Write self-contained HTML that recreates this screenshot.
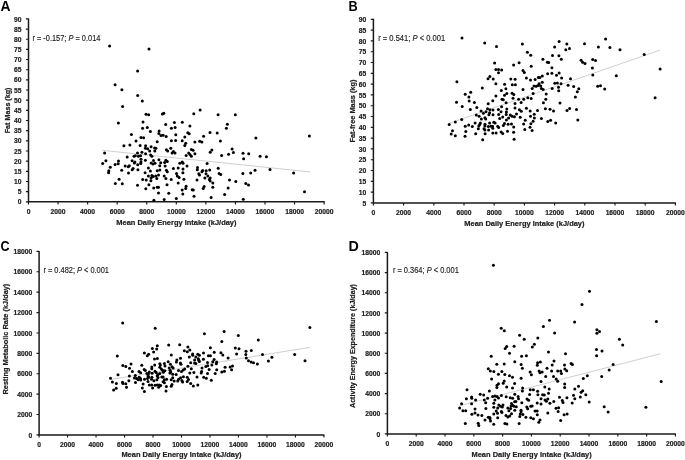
<!DOCTYPE html>
<html lang="en"><head><meta charset="utf-8"><title>Figure</title>
<style>html,body{margin:0;padding:0;background:#fff}svg{display:block}text{font-family:"Liberation Sans", sans-serif;fill:#222}.b{font-weight:700}.tk{font-weight:700;font-size:6.9px}.ax{font-weight:700;font-size:7.8px;stroke:#222;stroke-width:.22px}.tk{stroke:#222;stroke-width:.2px}.st{font-size:8.2px;fill:#1c1c1c;stroke:#1c1c1c;stroke-width:.14px}.L{font-weight:700;font-size:14.3px;fill:#000}.d circle{fill:#000}</style></head><body>
<svg style="will-change:transform" width="685" height="460" viewBox="0 0 685 460">
<rect width="685" height="460" fill="#fff"/>
<g id="panelA">
<line x1="102.2" y1="150.3" x2="310.0" y2="171.9" stroke="#8c8c8c" stroke-width="0.42"/>
<path d="M28.5 18.4V201.8H324.6" fill="none" stroke="#1a1a1a" stroke-width="1.5"/>
<path d="M25.9 18.9H28.5M25.9 29.06H28.5M25.9 39.22H28.5M25.9 49.38H28.5M25.9 59.54H28.5M25.9 69.71H28.5M25.9 79.87H28.5M25.9 90.03H28.5M25.9 100.19H28.5M25.9 110.35H28.5M25.9 120.51H28.5M25.9 130.67H28.5M25.9 140.83H28.5M25.9 150.99H28.5M25.9 161.16H28.5M25.9 171.32H28.5M25.9 181.48H28.5M25.9 191.64H28.5M25.9 201.8H28.5M28.5 201.8V204.4M58.06 201.8V204.4M87.62 201.8V204.4M117.18 201.8V204.4M146.74 201.8V204.4M176.3 201.8V204.4M205.86 201.8V204.4M235.42 201.8V204.4M264.98 201.8V204.4M294.54 201.8V204.4M324.1 201.8V204.4" fill="none" stroke="#1a1a1a" stroke-width="1.15"/>
<text class="tk" x="21.6" y="21.5" text-anchor="end" textLength="7.5" lengthAdjust="spacingAndGlyphs">90</text>
<text class="tk" x="21.6" y="31.66" text-anchor="end" textLength="7.5" lengthAdjust="spacingAndGlyphs">85</text>
<text class="tk" x="21.6" y="41.82" text-anchor="end" textLength="7.5" lengthAdjust="spacingAndGlyphs">80</text>
<text class="tk" x="21.6" y="51.98" text-anchor="end" textLength="7.5" lengthAdjust="spacingAndGlyphs">75</text>
<text class="tk" x="21.6" y="62.14" text-anchor="end" textLength="7.5" lengthAdjust="spacingAndGlyphs">70</text>
<text class="tk" x="21.6" y="72.31" text-anchor="end" textLength="7.5" lengthAdjust="spacingAndGlyphs">65</text>
<text class="tk" x="21.6" y="82.47" text-anchor="end" textLength="7.5" lengthAdjust="spacingAndGlyphs">60</text>
<text class="tk" x="21.6" y="92.63" text-anchor="end" textLength="7.5" lengthAdjust="spacingAndGlyphs">55</text>
<text class="tk" x="21.6" y="102.79" text-anchor="end" textLength="7.5" lengthAdjust="spacingAndGlyphs">50</text>
<text class="tk" x="21.6" y="112.95" text-anchor="end" textLength="7.5" lengthAdjust="spacingAndGlyphs">45</text>
<text class="tk" x="21.6" y="123.11" text-anchor="end" textLength="7.5" lengthAdjust="spacingAndGlyphs">40</text>
<text class="tk" x="21.6" y="133.27" text-anchor="end" textLength="7.5" lengthAdjust="spacingAndGlyphs">35</text>
<text class="tk" x="21.6" y="143.43" text-anchor="end" textLength="7.5" lengthAdjust="spacingAndGlyphs">30</text>
<text class="tk" x="21.6" y="153.59" text-anchor="end" textLength="7.5" lengthAdjust="spacingAndGlyphs">25</text>
<text class="tk" x="21.6" y="163.76" text-anchor="end" textLength="7.5" lengthAdjust="spacingAndGlyphs">20</text>
<text class="tk" x="21.6" y="173.92" text-anchor="end" textLength="7.5" lengthAdjust="spacingAndGlyphs">15</text>
<text class="tk" x="21.6" y="184.08" text-anchor="end" textLength="7.5" lengthAdjust="spacingAndGlyphs">10</text>
<text class="tk" x="21.6" y="194.24" text-anchor="end" textLength="3.75" lengthAdjust="spacingAndGlyphs">5</text>
<text class="tk" x="21.6" y="204.4" text-anchor="end" textLength="3.75" lengthAdjust="spacingAndGlyphs">0</text>
<text class="tk" x="28.5" y="213.7" text-anchor="middle" textLength="3.75" lengthAdjust="spacingAndGlyphs">0</text>
<text class="tk" x="58.06" y="213.7" text-anchor="middle" textLength="15" lengthAdjust="spacingAndGlyphs">2000</text>
<text class="tk" x="87.62" y="213.7" text-anchor="middle" textLength="15" lengthAdjust="spacingAndGlyphs">4000</text>
<text class="tk" x="117.18" y="213.7" text-anchor="middle" textLength="15" lengthAdjust="spacingAndGlyphs">6000</text>
<text class="tk" x="146.74" y="213.7" text-anchor="middle" textLength="15" lengthAdjust="spacingAndGlyphs">8000</text>
<text class="tk" x="176.3" y="213.7" text-anchor="middle" textLength="18.75" lengthAdjust="spacingAndGlyphs">10000</text>
<text class="tk" x="205.86" y="213.7" text-anchor="middle" textLength="18.75" lengthAdjust="spacingAndGlyphs">12000</text>
<text class="tk" x="235.42" y="213.7" text-anchor="middle" textLength="18.75" lengthAdjust="spacingAndGlyphs">14000</text>
<text class="tk" x="264.98" y="213.7" text-anchor="middle" textLength="18.75" lengthAdjust="spacingAndGlyphs">16000</text>
<text class="tk" x="294.54" y="213.7" text-anchor="middle" textLength="18.75" lengthAdjust="spacingAndGlyphs">18000</text>
<text class="tk" x="324.1" y="213.7" text-anchor="middle" textLength="18.75" lengthAdjust="spacingAndGlyphs">20000</text>
<text class="ax" x="176.4" y="224.6" text-anchor="middle" textLength="120.2" lengthAdjust="spacingAndGlyphs">Mean Daily Energy Intake (kJ/day)</text>
<text class="ax" transform="translate(10.4 110.4) rotate(-90)" text-anchor="middle" textLength="45.7" lengthAdjust="spacingAndGlyphs">Fat Mass (kg)</text>
<text class="L" x="0.6" y="11" textLength="10" lengthAdjust="spacingAndGlyphs">A</text>
<text class="st" x="32.4" y="40.7" textLength="68" lengthAdjust="spacingAndGlyphs" xml:space="preserve">r = -0.157; <tspan font-style="italic">P</tspan> = 0.014</text>
<g class="d"><circle cx="109.6" cy="45.9" r="1.5"/><circle cx="149" cy="49.1" r="1.5"/><circle cx="137.6" cy="71.1" r="1.5"/><circle cx="115.1" cy="84.7" r="1.5"/><circle cx="121.9" cy="89.8" r="1.5"/><circle cx="137.7" cy="95.5" r="1.5"/><circle cx="142.3" cy="100.9" r="1.5"/><circle cx="122.6" cy="106.4" r="1.5"/><circle cx="146" cy="114.3" r="1.5"/><circle cx="148.6" cy="114.7" r="1.5"/><circle cx="118.4" cy="123" r="1.5"/><circle cx="143" cy="122.1" r="1.5"/><circle cx="142.6" cy="128.3" r="1.5"/><circle cx="147.3" cy="127.4" r="1.5"/><circle cx="150.4" cy="131.5" r="1.5"/><circle cx="131.4" cy="134.4" r="1.5"/><circle cx="141" cy="137.5" r="1.5"/><circle cx="143.6" cy="137.8" r="1.5"/><circle cx="162.4" cy="114" r="1.5"/><circle cx="163.8" cy="113.3" r="1.5"/><circle cx="193.8" cy="113.8" r="1.5"/><circle cx="200.1" cy="109.9" r="1.5"/><circle cx="165.7" cy="124.4" r="1.5"/><circle cx="174.4" cy="122.5" r="1.5"/><circle cx="182.3" cy="122.3" r="1.5"/><circle cx="189.9" cy="126.1" r="1.5"/><circle cx="171.4" cy="128.3" r="1.5"/><circle cx="175.1" cy="127.4" r="1.5"/><circle cx="159.1" cy="131.1" r="1.5"/><circle cx="158.9" cy="133.5" r="1.5"/><circle cx="161" cy="135.5" r="1.5"/><circle cx="163.1" cy="135.2" r="1.5"/><circle cx="166.2" cy="136.6" r="1.5"/><circle cx="175.8" cy="134.8" r="1.5"/><circle cx="187.8" cy="132.8" r="1.5"/><circle cx="189.2" cy="133.7" r="1.5"/><circle cx="184.8" cy="137" r="1.5"/><circle cx="203.6" cy="136.2" r="1.5"/><circle cx="210" cy="132.6" r="1.5"/><circle cx="218.1" cy="114.7" r="1.5"/><circle cx="235.3" cy="114.7" r="1.5"/><circle cx="227.4" cy="124.3" r="1.5"/><circle cx="226.4" cy="128.2" r="1.5"/><circle cx="217.2" cy="133" r="1.5"/><circle cx="255.9" cy="137.9" r="1.5"/><circle cx="136" cy="141.1" r="1.5"/><circle cx="123.9" cy="145.7" r="1.5"/><circle cx="129.9" cy="145" r="1.5"/><circle cx="140.1" cy="145.4" r="1.5"/><circle cx="145.6" cy="145.7" r="1.5"/><circle cx="151.1" cy="146.7" r="1.5"/><circle cx="154.6" cy="147.9" r="1.5"/><circle cx="145.4" cy="148.3" r="1.5"/><circle cx="147.6" cy="148.8" r="1.5"/><circle cx="149.7" cy="150.9" r="1.5"/><circle cx="154.8" cy="151.1" r="1.5"/><circle cx="104.6" cy="152.9" r="1.5"/><circle cx="137.5" cy="153.1" r="1.5"/><circle cx="141.9" cy="152.3" r="1.5"/><circle cx="145.6" cy="153.8" r="1.5"/><circle cx="150.6" cy="154.9" r="1.5"/><circle cx="151.9" cy="156.2" r="1.5"/><circle cx="134" cy="156.2" r="1.5"/><circle cx="135.3" cy="155.8" r="1.5"/><circle cx="138.4" cy="156.2" r="1.5"/><circle cx="140.5" cy="155.8" r="1.5"/><circle cx="127.2" cy="157.1" r="1.5"/><circle cx="141" cy="159.3" r="1.5"/><circle cx="145.4" cy="160.3" r="1.5"/><circle cx="153.5" cy="160.6" r="1.5"/><circle cx="105.9" cy="160.8" r="1.5"/><circle cx="118.5" cy="161" r="1.5"/><circle cx="132.1" cy="160.8" r="1.5"/><circle cx="134.9" cy="161.9" r="1.5"/><circle cx="134.4" cy="162.9" r="1.5"/><circle cx="141" cy="161.9" r="1.5"/><circle cx="140.7" cy="163.5" r="1.5"/><circle cx="151.1" cy="162.9" r="1.5"/><circle cx="153" cy="164.1" r="1.5"/><circle cx="102.7" cy="163.6" r="1.5"/><circle cx="115.1" cy="164.4" r="1.5"/><circle cx="118.2" cy="163.8" r="1.5"/><circle cx="137.7" cy="164.8" r="1.5"/><circle cx="125.2" cy="166.1" r="1.5"/><circle cx="128.3" cy="166.7" r="1.5"/><circle cx="129.3" cy="165.8" r="1.5"/><circle cx="110.3" cy="167.3" r="1.5"/><circle cx="148.4" cy="167.9" r="1.5"/><circle cx="133.1" cy="168.5" r="1.5"/><circle cx="132.2" cy="169.8" r="1.5"/><circle cx="137.9" cy="169.8" r="1.5"/><circle cx="121.7" cy="170.2" r="1.5"/><circle cx="108.8" cy="170.7" r="1.5"/><circle cx="108.6" cy="172.8" r="1.5"/><circle cx="128.5" cy="173" r="1.5"/><circle cx="150.4" cy="171.1" r="1.5"/><circle cx="145.1" cy="172.7" r="1.5"/><circle cx="148.4" cy="176.1" r="1.5"/><circle cx="151.9" cy="175.5" r="1.5"/><circle cx="153.2" cy="176.4" r="1.5"/><circle cx="151.1" cy="178.1" r="1.5"/><circle cx="119.1" cy="179.2" r="1.5"/><circle cx="142.7" cy="179.6" r="1.5"/><circle cx="146.2" cy="179.9" r="1.5"/><circle cx="157.2" cy="141.8" r="1.5"/><circle cx="171.4" cy="140.7" r="1.5"/><circle cx="175.6" cy="140.4" r="1.5"/><circle cx="182.2" cy="140.7" r="1.5"/><circle cx="194.9" cy="141.9" r="1.5"/><circle cx="199.7" cy="141.3" r="1.5"/><circle cx="201.9" cy="141.9" r="1.5"/><circle cx="185.7" cy="143.3" r="1.5"/><circle cx="184.8" cy="145.4" r="1.5"/><circle cx="155.9" cy="148.3" r="1.5"/><circle cx="170.8" cy="148.3" r="1.5"/><circle cx="166.4" cy="149.8" r="1.5"/><circle cx="167.7" cy="150.9" r="1.5"/><circle cx="173.4" cy="151.4" r="1.5"/><circle cx="172.1" cy="153.1" r="1.5"/><circle cx="175" cy="153" r="1.5"/><circle cx="191.4" cy="149.5" r="1.5"/><circle cx="193.1" cy="150.3" r="1.5"/><circle cx="188.7" cy="153" r="1.5"/><circle cx="194.9" cy="153.8" r="1.5"/><circle cx="190" cy="154.5" r="1.5"/><circle cx="191.4" cy="156.2" r="1.5"/><circle cx="186.1" cy="155.6" r="1.5"/><circle cx="211.9" cy="150.1" r="1.5"/><circle cx="210.2" cy="152.3" r="1.5"/><circle cx="158.9" cy="159.7" r="1.5"/><circle cx="165.9" cy="160.3" r="1.5"/><circle cx="167.3" cy="161.5" r="1.5"/><circle cx="155" cy="163.2" r="1.5"/><circle cx="160.7" cy="162.8" r="1.5"/><circle cx="164.6" cy="162.6" r="1.5"/><circle cx="182.2" cy="162.1" r="1.5"/><circle cx="179.8" cy="163.2" r="1.5"/><circle cx="183" cy="163.2" r="1.5"/><circle cx="207.1" cy="163.5" r="1.5"/><circle cx="159.8" cy="165.7" r="1.5"/><circle cx="165.1" cy="166" r="1.5"/><circle cx="187" cy="166.1" r="1.5"/><circle cx="173.4" cy="168.5" r="1.5"/><circle cx="178.2" cy="168" r="1.5"/><circle cx="183" cy="168.9" r="1.5"/><circle cx="197.5" cy="167.6" r="1.5"/><circle cx="197.3" cy="169.8" r="1.5"/><circle cx="209.7" cy="170" r="1.5"/><circle cx="157.2" cy="170.7" r="1.5"/><circle cx="159.8" cy="170" r="1.5"/><circle cx="166.4" cy="170.2" r="1.5"/><circle cx="167.3" cy="171.7" r="1.5"/><circle cx="202.7" cy="170.5" r="1.5"/><circle cx="201.9" cy="171.7" r="1.5"/><circle cx="206.2" cy="170.7" r="1.5"/><circle cx="182.9" cy="172.8" r="1.5"/><circle cx="176.5" cy="173.5" r="1.5"/><circle cx="206" cy="173.7" r="1.5"/><circle cx="198.8" cy="173.7" r="1.5"/><circle cx="199.5" cy="175" r="1.5"/><circle cx="158.5" cy="175" r="1.5"/><circle cx="155.9" cy="176.1" r="1.5"/><circle cx="164.2" cy="175.9" r="1.5"/><circle cx="177.3" cy="175.9" r="1.5"/><circle cx="179.1" cy="177.5" r="1.5"/><circle cx="207.8" cy="175.9" r="1.5"/><circle cx="156.8" cy="178.5" r="1.5"/><circle cx="165.9" cy="178.5" r="1.5"/><circle cx="171.2" cy="179.6" r="1.5"/><circle cx="183.9" cy="179.2" r="1.5"/><circle cx="204.9" cy="178.1" r="1.5"/><circle cx="210.2" cy="178.1" r="1.5"/><circle cx="209.3" cy="179.6" r="1.5"/><circle cx="197" cy="179.9" r="1.5"/><circle cx="220.4" cy="140.9" r="1.5"/><circle cx="232.1" cy="149" r="1.5"/><circle cx="233.4" cy="152.5" r="1.5"/><circle cx="228.6" cy="154.3" r="1.5"/><circle cx="221.6" cy="155.5" r="1.5"/><circle cx="243" cy="153.3" r="1.5"/><circle cx="248.7" cy="153.8" r="1.5"/><circle cx="243.6" cy="158.7" r="1.5"/><circle cx="260.1" cy="156.2" r="1.5"/><circle cx="266.4" cy="156.8" r="1.5"/><circle cx="218.2" cy="168.2" r="1.5"/><circle cx="255" cy="170.2" r="1.5"/><circle cx="270" cy="169.6" r="1.5"/><circle cx="219.1" cy="173.5" r="1.5"/><circle cx="220.7" cy="174.6" r="1.5"/><circle cx="242.9" cy="173.5" r="1.5"/><circle cx="250.7" cy="173.1" r="1.5"/><circle cx="229.5" cy="179.9" r="1.5"/><circle cx="150.9" cy="180.7" r="1.5"/><circle cx="115.3" cy="183.6" r="1.5"/><circle cx="122.3" cy="183.8" r="1.5"/><circle cx="137.5" cy="185.3" r="1.5"/><circle cx="148.9" cy="184.7" r="1.5"/><circle cx="145.8" cy="188.8" r="1.5"/><circle cx="153.7" cy="188" r="1.5"/><circle cx="153.9" cy="200.2" r="1.5"/><circle cx="210.2" cy="180.9" r="1.5"/><circle cx="212.8" cy="183" r="1.5"/><circle cx="178.2" cy="183" r="1.5"/><circle cx="167" cy="184.7" r="1.5"/><circle cx="186.1" cy="186.2" r="1.5"/><circle cx="204.1" cy="186.6" r="1.5"/><circle cx="157.2" cy="187.3" r="1.5"/><circle cx="158.5" cy="187.3" r="1.5"/><circle cx="212.8" cy="187.3" r="1.5"/><circle cx="185.7" cy="188.6" r="1.5"/><circle cx="203.2" cy="188.6" r="1.5"/><circle cx="182.2" cy="190" r="1.5"/><circle cx="192.2" cy="189.7" r="1.5"/><circle cx="193.3" cy="190.1" r="1.5"/><circle cx="158.5" cy="192.9" r="1.5"/><circle cx="168.8" cy="193.2" r="1.5"/><circle cx="182.8" cy="194.1" r="1.5"/><circle cx="194" cy="196.3" r="1.5"/><circle cx="211.1" cy="197.4" r="1.5"/><circle cx="176.3" cy="198.5" r="1.5"/><circle cx="164.2" cy="199.5" r="1.5"/><circle cx="235.8" cy="181.4" r="1.5"/><circle cx="245.8" cy="183.6" r="1.5"/><circle cx="248.5" cy="185.1" r="1.5"/><circle cx="228.1" cy="188" r="1.5"/><circle cx="224.6" cy="194.4" r="1.5"/><circle cx="243.3" cy="199.3" r="1.5"/><circle cx="293.6" cy="173.1" r="1.5"/><circle cx="304.5" cy="191.7" r="1.5"/><circle cx="309.4" cy="136" r="1.5"/></g>
</g>
<g id="panelB">
<line x1="449.3" y1="123.3" x2="660.1" y2="50.1" stroke="#8c8c8c" stroke-width="0.42"/>
<path d="M373.4 18.8V202.9H675.9" fill="none" stroke="#1a1a1a" stroke-width="1.5"/>
<path d="M370.8 19.3H373.4M370.8 30.1H373.4M370.8 40.9H373.4M370.8 51.7H373.4M370.8 62.5H373.4M370.8 73.3H373.4M370.8 84.1H373.4M370.8 94.9H373.4M370.8 105.7H373.4M370.8 116.5H373.4M370.8 127.3H373.4M370.8 138.1H373.4M370.8 148.9H373.4M370.8 159.7H373.4M370.8 170.5H373.4M370.8 181.3H373.4M370.8 192.1H373.4M370.8 202.9H373.4M373.4 202.9V205.5M403.6 202.9V205.5M433.8 202.9V205.5M464 202.9V205.5M494.2 202.9V205.5M524.4 202.9V205.5M554.6 202.9V205.5M584.8 202.9V205.5M615 202.9V205.5M645.2 202.9V205.5M675.4 202.9V205.5" fill="none" stroke="#1a1a1a" stroke-width="1.15"/>
<text class="tk" x="366.3" y="21.9" text-anchor="end" textLength="7.5" lengthAdjust="spacingAndGlyphs">90</text>
<text class="tk" x="366.3" y="32.7" text-anchor="end" textLength="7.5" lengthAdjust="spacingAndGlyphs">85</text>
<text class="tk" x="366.3" y="43.5" text-anchor="end" textLength="7.5" lengthAdjust="spacingAndGlyphs">80</text>
<text class="tk" x="366.3" y="54.3" text-anchor="end" textLength="7.5" lengthAdjust="spacingAndGlyphs">75</text>
<text class="tk" x="366.3" y="65.1" text-anchor="end" textLength="7.5" lengthAdjust="spacingAndGlyphs">70</text>
<text class="tk" x="366.3" y="75.9" text-anchor="end" textLength="7.5" lengthAdjust="spacingAndGlyphs">65</text>
<text class="tk" x="366.3" y="86.7" text-anchor="end" textLength="7.5" lengthAdjust="spacingAndGlyphs">60</text>
<text class="tk" x="366.3" y="97.5" text-anchor="end" textLength="7.5" lengthAdjust="spacingAndGlyphs">55</text>
<text class="tk" x="366.3" y="108.3" text-anchor="end" textLength="7.5" lengthAdjust="spacingAndGlyphs">50</text>
<text class="tk" x="366.3" y="119.1" text-anchor="end" textLength="7.5" lengthAdjust="spacingAndGlyphs">45</text>
<text class="tk" x="366.3" y="129.9" text-anchor="end" textLength="7.5" lengthAdjust="spacingAndGlyphs">40</text>
<text class="tk" x="366.3" y="140.7" text-anchor="end" textLength="7.5" lengthAdjust="spacingAndGlyphs">35</text>
<text class="tk" x="366.3" y="151.5" text-anchor="end" textLength="7.5" lengthAdjust="spacingAndGlyphs">30</text>
<text class="tk" x="366.3" y="162.3" text-anchor="end" textLength="7.5" lengthAdjust="spacingAndGlyphs">25</text>
<text class="tk" x="366.3" y="173.1" text-anchor="end" textLength="7.5" lengthAdjust="spacingAndGlyphs">20</text>
<text class="tk" x="366.3" y="183.9" text-anchor="end" textLength="7.5" lengthAdjust="spacingAndGlyphs">15</text>
<text class="tk" x="366.3" y="194.7" text-anchor="end" textLength="7.5" lengthAdjust="spacingAndGlyphs">10</text>
<text class="tk" x="366.3" y="205.5" text-anchor="end" textLength="3.75" lengthAdjust="spacingAndGlyphs">5</text>
<text class="tk" x="373.4" y="214.9" text-anchor="middle" textLength="3.75" lengthAdjust="spacingAndGlyphs">0</text>
<text class="tk" x="403.6" y="214.9" text-anchor="middle" textLength="15" lengthAdjust="spacingAndGlyphs">2000</text>
<text class="tk" x="433.8" y="214.9" text-anchor="middle" textLength="15" lengthAdjust="spacingAndGlyphs">4000</text>
<text class="tk" x="464" y="214.9" text-anchor="middle" textLength="15" lengthAdjust="spacingAndGlyphs">6000</text>
<text class="tk" x="494.2" y="214.9" text-anchor="middle" textLength="15" lengthAdjust="spacingAndGlyphs">8000</text>
<text class="tk" x="524.4" y="214.9" text-anchor="middle" textLength="18.75" lengthAdjust="spacingAndGlyphs">10000</text>
<text class="tk" x="554.6" y="214.9" text-anchor="middle" textLength="18.75" lengthAdjust="spacingAndGlyphs">12000</text>
<text class="tk" x="584.8" y="214.9" text-anchor="middle" textLength="18.75" lengthAdjust="spacingAndGlyphs">14000</text>
<text class="tk" x="615" y="214.9" text-anchor="middle" textLength="18.75" lengthAdjust="spacingAndGlyphs">16000</text>
<text class="tk" x="645.2" y="214.9" text-anchor="middle" textLength="18.75" lengthAdjust="spacingAndGlyphs">18000</text>
<text class="tk" x="675.4" y="214.9" text-anchor="middle" textLength="18.75" lengthAdjust="spacingAndGlyphs">20000</text>
<text class="ax" x="524.4" y="226.2" text-anchor="middle" textLength="120.2" lengthAdjust="spacingAndGlyphs">Mean Daily Energy Intake (kJ/day)</text>
<text class="ax" transform="translate(354.8 111.1) rotate(-90)" text-anchor="middle" textLength="63" lengthAdjust="spacingAndGlyphs">Fat-free Mass (kg)</text>
<text class="L" x="348.6" y="11" textLength="9.2" lengthAdjust="spacingAndGlyphs">B</text>
<text class="st" x="378.2" y="40.7" textLength="66.9" lengthAdjust="spacingAndGlyphs" xml:space="preserve">r = 0.541; <tspan font-style="italic">P</tspan> < 0.001</text>
<g class="d"><circle cx="462" cy="38.1" r="1.5"/><circle cx="484.7" cy="43" r="1.5"/><circle cx="494.6" cy="63.1" r="1.5"/><circle cx="496.5" cy="46.5" r="1.5"/><circle cx="522.4" cy="44.1" r="1.5"/><circle cx="554.6" cy="46.9" r="1.5"/><circle cx="527.4" cy="52.2" r="1.5"/><circle cx="530.7" cy="55.2" r="1.5"/><circle cx="552.5" cy="55.4" r="1.5"/><circle cx="542.9" cy="59.3" r="1.5"/><circle cx="547.4" cy="62.2" r="1.5"/><circle cx="548.7" cy="62.5" r="1.5"/><circle cx="519.1" cy="62.7" r="1.5"/><circle cx="513.6" cy="64.9" r="1.5"/><circle cx="559.1" cy="41.6" r="1.5"/><circle cx="566.8" cy="44.1" r="1.5"/><circle cx="569.5" cy="48.6" r="1.5"/><circle cx="565.8" cy="49.8" r="1.5"/><circle cx="584.5" cy="43.8" r="1.5"/><circle cx="598.4" cy="46.9" r="1.5"/><circle cx="605.6" cy="39" r="1.5"/><circle cx="609.9" cy="47.5" r="1.5"/><circle cx="558.9" cy="55.8" r="1.5"/><circle cx="561.3" cy="59.3" r="1.5"/><circle cx="581.1" cy="60.2" r="1.5"/><circle cx="582.6" cy="62.2" r="1.5"/><circle cx="585" cy="63.4" r="1.5"/><circle cx="592.7" cy="59.6" r="1.5"/><circle cx="595.5" cy="60.5" r="1.5"/><circle cx="620" cy="49.8" r="1.5"/><circle cx="644.2" cy="54.5" r="1.5"/><circle cx="456.9" cy="81.8" r="1.5"/><circle cx="489.9" cy="76.4" r="1.5"/><circle cx="488" cy="78.8" r="1.5"/><circle cx="493.2" cy="79" r="1.5"/><circle cx="482.3" cy="88" r="1.5"/><circle cx="470.7" cy="92.2" r="1.5"/><circle cx="465.2" cy="94.3" r="1.5"/><circle cx="468.9" cy="97.1" r="1.5"/><circle cx="456.5" cy="102.2" r="1.5"/><circle cx="469.2" cy="101.1" r="1.5"/><circle cx="474.4" cy="102.5" r="1.5"/><circle cx="492.8" cy="100.7" r="1.5"/><circle cx="488.2" cy="103.8" r="1.5"/><circle cx="531.2" cy="66.3" r="1.5"/><circle cx="551.9" cy="67.8" r="1.5"/><circle cx="495.9" cy="69.4" r="1.5"/><circle cx="498.5" cy="69.6" r="1.5"/><circle cx="501.6" cy="70" r="1.5"/><circle cx="498.5" cy="72.7" r="1.5"/><circle cx="523" cy="70.4" r="1.5"/><circle cx="524.3" cy="72.4" r="1.5"/><circle cx="547.6" cy="73.8" r="1.5"/><circle cx="551.9" cy="73.3" r="1.5"/><circle cx="542.3" cy="75.9" r="1.5"/><circle cx="538.4" cy="77.5" r="1.5"/><circle cx="539.9" cy="77.5" r="1.5"/><circle cx="526.4" cy="78.1" r="1.5"/><circle cx="510.8" cy="79" r="1.5"/><circle cx="515.1" cy="79.3" r="1.5"/><circle cx="530.5" cy="79.9" r="1.5"/><circle cx="535.1" cy="79.6" r="1.5"/><circle cx="542.3" cy="82.3" r="1.5"/><circle cx="495.9" cy="83.8" r="1.5"/><circle cx="504.6" cy="84.3" r="1.5"/><circle cx="512.3" cy="84.7" r="1.5"/><circle cx="515.4" cy="84.7" r="1.5"/><circle cx="539.1" cy="83.8" r="1.5"/><circle cx="534" cy="86" r="1.5"/><circle cx="536.2" cy="86.3" r="1.5"/><circle cx="538.1" cy="85.6" r="1.5"/><circle cx="540.7" cy="86" r="1.5"/><circle cx="554.8" cy="83.2" r="1.5"/><circle cx="505.9" cy="88.8" r="1.5"/><circle cx="501.3" cy="90.4" r="1.5"/><circle cx="523" cy="89.4" r="1.5"/><circle cx="532.2" cy="88.6" r="1.5"/><circle cx="541.4" cy="88.5" r="1.5"/><circle cx="543.2" cy="89.4" r="1.5"/><circle cx="552.2" cy="88.5" r="1.5"/><circle cx="506.8" cy="93.5" r="1.5"/><circle cx="504.5" cy="95.2" r="1.5"/><circle cx="512.1" cy="93.2" r="1.5"/><circle cx="513.8" cy="94.6" r="1.5"/><circle cx="533.1" cy="93.6" r="1.5"/><circle cx="546.2" cy="93.9" r="1.5"/><circle cx="495.9" cy="96.1" r="1.5"/><circle cx="513" cy="98.3" r="1.5"/><circle cx="527.8" cy="97.7" r="1.5"/><circle cx="531.2" cy="98.5" r="1.5"/><circle cx="518.6" cy="99.3" r="1.5"/><circle cx="523.7" cy="99.3" r="1.5"/><circle cx="502" cy="99.2" r="1.5"/><circle cx="503.3" cy="99.8" r="1.5"/><circle cx="545.8" cy="99.2" r="1.5"/><circle cx="506.1" cy="102.8" r="1.5"/><circle cx="515" cy="103.5" r="1.5"/><circle cx="521.1" cy="102.5" r="1.5"/><circle cx="543.4" cy="102.8" r="1.5"/><circle cx="592.4" cy="68.1" r="1.5"/><circle cx="559.1" cy="73.1" r="1.5"/><circle cx="556.5" cy="75.2" r="1.5"/><circle cx="592.8" cy="75.1" r="1.5"/><circle cx="561.6" cy="78.1" r="1.5"/><circle cx="570.5" cy="78.8" r="1.5"/><circle cx="557.4" cy="83.1" r="1.5"/><circle cx="561" cy="83.8" r="1.5"/><circle cx="568.1" cy="85.3" r="1.5"/><circle cx="573.7" cy="86.5" r="1.5"/><circle cx="558.5" cy="87.3" r="1.5"/><circle cx="578.8" cy="88.8" r="1.5"/><circle cx="558.7" cy="90.7" r="1.5"/><circle cx="577.3" cy="91.7" r="1.5"/><circle cx="597.7" cy="86.3" r="1.5"/><circle cx="600.5" cy="85.8" r="1.5"/><circle cx="604.7" cy="89.1" r="1.5"/><circle cx="575.4" cy="97.1" r="1.5"/><circle cx="560" cy="103.1" r="1.5"/><circle cx="660.1" cy="69.1" r="1.5"/><circle cx="616.3" cy="75.8" r="1.5"/><circle cx="655.1" cy="97.7" r="1.5"/><circle cx="476.8" cy="107.5" r="1.5"/><circle cx="470.3" cy="109.4" r="1.5"/><circle cx="487.5" cy="108.8" r="1.5"/><circle cx="489.9" cy="109.7" r="1.5"/><circle cx="493" cy="109.9" r="1.5"/><circle cx="498.4" cy="109.4" r="1.5"/><circle cx="481.1" cy="111" r="1.5"/><circle cx="486" cy="111.8" r="1.5"/><circle cx="483.4" cy="113.2" r="1.5"/><circle cx="489.6" cy="112.8" r="1.5"/><circle cx="488.9" cy="114.8" r="1.5"/><circle cx="493" cy="114.8" r="1.5"/><circle cx="498.7" cy="114.5" r="1.5"/><circle cx="476.3" cy="115.1" r="1.5"/><circle cx="479.1" cy="116.2" r="1.5"/><circle cx="499.7" cy="118.4" r="1.5"/><circle cx="481.4" cy="119" r="1.5"/><circle cx="484.9" cy="117.7" r="1.5"/><circle cx="485.7" cy="119" r="1.5"/><circle cx="475.1" cy="122.9" r="1.5"/><circle cx="480.4" cy="122.9" r="1.5"/><circle cx="479.7" cy="124.6" r="1.5"/><circle cx="478.8" cy="125.9" r="1.5"/><circle cx="489.6" cy="122.9" r="1.5"/><circle cx="493.8" cy="122.3" r="1.5"/><circle cx="495.1" cy="122.9" r="1.5"/><circle cx="485" cy="124.2" r="1.5"/><circle cx="484.9" cy="125.9" r="1.5"/><circle cx="472.3" cy="126.4" r="1.5"/><circle cx="488.3" cy="126.5" r="1.5"/><circle cx="490.9" cy="126.2" r="1.5"/><circle cx="492.5" cy="126.2" r="1.5"/><circle cx="497.7" cy="126.2" r="1.5"/><circle cx="498.7" cy="127.5" r="1.5"/><circle cx="492.8" cy="128.2" r="1.5"/><circle cx="478.3" cy="128.8" r="1.5"/><circle cx="484" cy="128.8" r="1.5"/><circle cx="484.9" cy="130.1" r="1.5"/><circle cx="488.6" cy="130.1" r="1.5"/><circle cx="492.8" cy="132.9" r="1.5"/><circle cx="496.1" cy="133" r="1.5"/><circle cx="475.7" cy="133.7" r="1.5"/><circle cx="485.1" cy="133.7" r="1.5"/><circle cx="462.2" cy="106.6" r="1.5"/><circle cx="461.7" cy="119.5" r="1.5"/><circle cx="455.3" cy="122.1" r="1.5"/><circle cx="449.2" cy="124.4" r="1.5"/><circle cx="468.7" cy="125" r="1.5"/><circle cx="465.2" cy="126.3" r="1.5"/><circle cx="452.5" cy="130.7" r="1.5"/><circle cx="465.8" cy="131.5" r="1.5"/><circle cx="451.2" cy="134.1" r="1.5"/><circle cx="455.3" cy="135.7" r="1.5"/><circle cx="465" cy="136.3" r="1.5"/><circle cx="482.7" cy="139.8" r="1.5"/><circle cx="501.6" cy="106.8" r="1.5"/><circle cx="506.8" cy="108.9" r="1.5"/><circle cx="515" cy="107.9" r="1.5"/><circle cx="526.4" cy="108.2" r="1.5"/><circle cx="545.4" cy="108.7" r="1.5"/><circle cx="550" cy="109.2" r="1.5"/><circle cx="553.5" cy="111" r="1.5"/><circle cx="537.5" cy="110.4" r="1.5"/><circle cx="530.2" cy="111.1" r="1.5"/><circle cx="501" cy="111.8" r="1.5"/><circle cx="506.4" cy="112" r="1.5"/><circle cx="519.4" cy="109.8" r="1.5"/><circle cx="521.3" cy="111.3" r="1.5"/><circle cx="506.2" cy="114.4" r="1.5"/><circle cx="516.5" cy="114" r="1.5"/><circle cx="534.2" cy="114.2" r="1.5"/><circle cx="510.3" cy="114.9" r="1.5"/><circle cx="512.1" cy="116.2" r="1.5"/><circle cx="514.4" cy="116.8" r="1.5"/><circle cx="530.5" cy="116.2" r="1.5"/><circle cx="502.7" cy="117.1" r="1.5"/><circle cx="508.6" cy="118" r="1.5"/><circle cx="520.2" cy="117.3" r="1.5"/><circle cx="534.4" cy="118.1" r="1.5"/><circle cx="541.4" cy="118.6" r="1.5"/><circle cx="506.4" cy="119.9" r="1.5"/><circle cx="525.2" cy="120.2" r="1.5"/><circle cx="533.1" cy="121.2" r="1.5"/><circle cx="547.8" cy="121.5" r="1.5"/><circle cx="550.6" cy="120.3" r="1.5"/><circle cx="504.5" cy="123.4" r="1.5"/><circle cx="503.3" cy="125.6" r="1.5"/><circle cx="508.1" cy="124.3" r="1.5"/><circle cx="511.5" cy="124.1" r="1.5"/><circle cx="523.6" cy="124" r="1.5"/><circle cx="530.9" cy="123.8" r="1.5"/><circle cx="513.7" cy="126.9" r="1.5"/><circle cx="530" cy="127.3" r="1.5"/><circle cx="524.8" cy="129.5" r="1.5"/><circle cx="532.1" cy="130.6" r="1.5"/><circle cx="501.1" cy="132" r="1.5"/><circle cx="502.7" cy="133.5" r="1.5"/><circle cx="507.5" cy="131.3" r="1.5"/><circle cx="513.6" cy="132.2" r="1.5"/><circle cx="514.1" cy="139.3" r="1.5"/><circle cx="569.6" cy="108.5" r="1.5"/><circle cx="567" cy="110.4" r="1.5"/><circle cx="576.5" cy="109.4" r="1.5"/><circle cx="577.8" cy="120.1" r="1.5"/><circle cx="555.7" cy="123" r="1.5"/></g>
</g>
<g id="panelC">
<line x1="110.6" y1="379.5" x2="309.8" y2="347.4" stroke="#8c8c8c" stroke-width="0.42"/>
<path d="M39.1 250.9V434.9H324.4" fill="none" stroke="#1a1a1a" stroke-width="1.5"/>
<path d="M36.5 251.4H39.1M36.5 271.79H39.1M36.5 292.18H39.1M36.5 312.57H39.1M36.5 332.96H39.1M36.5 353.34H39.1M36.5 373.73H39.1M36.5 394.12H39.1M36.5 414.51H39.1M36.5 434.9H39.1M39.1 434.9V437.5M67.58 434.9V437.5M96.06 434.9V437.5M124.54 434.9V437.5M153.02 434.9V437.5M181.5 434.9V437.5M209.98 434.9V437.5M238.46 434.9V437.5M266.94 434.9V437.5M295.42 434.9V437.5M323.9 434.9V437.5" fill="none" stroke="#1a1a1a" stroke-width="1.15"/>
<text class="tk" x="32.2" y="254" text-anchor="end" textLength="18.75" lengthAdjust="spacingAndGlyphs">18000</text>
<text class="tk" x="32.2" y="274.39" text-anchor="end" textLength="18.75" lengthAdjust="spacingAndGlyphs">16000</text>
<text class="tk" x="32.2" y="294.78" text-anchor="end" textLength="18.75" lengthAdjust="spacingAndGlyphs">14000</text>
<text class="tk" x="32.2" y="315.17" text-anchor="end" textLength="18.75" lengthAdjust="spacingAndGlyphs">12000</text>
<text class="tk" x="32.2" y="335.56" text-anchor="end" textLength="18.75" lengthAdjust="spacingAndGlyphs">10000</text>
<text class="tk" x="32.2" y="355.94" text-anchor="end" textLength="15" lengthAdjust="spacingAndGlyphs">8000</text>
<text class="tk" x="32.2" y="376.33" text-anchor="end" textLength="15" lengthAdjust="spacingAndGlyphs">6000</text>
<text class="tk" x="32.2" y="396.72" text-anchor="end" textLength="15" lengthAdjust="spacingAndGlyphs">4000</text>
<text class="tk" x="32.2" y="417.11" text-anchor="end" textLength="15" lengthAdjust="spacingAndGlyphs">2000</text>
<text class="tk" x="32.2" y="437.5" text-anchor="end" textLength="3.75" lengthAdjust="spacingAndGlyphs">0</text>
<text class="tk" x="39.1" y="446.8" text-anchor="middle" textLength="3.75" lengthAdjust="spacingAndGlyphs">0</text>
<text class="tk" x="67.58" y="446.8" text-anchor="middle" textLength="15" lengthAdjust="spacingAndGlyphs">2000</text>
<text class="tk" x="96.06" y="446.8" text-anchor="middle" textLength="15" lengthAdjust="spacingAndGlyphs">4000</text>
<text class="tk" x="124.54" y="446.8" text-anchor="middle" textLength="15" lengthAdjust="spacingAndGlyphs">6000</text>
<text class="tk" x="153.02" y="446.8" text-anchor="middle" textLength="15" lengthAdjust="spacingAndGlyphs">8000</text>
<text class="tk" x="181.5" y="446.8" text-anchor="middle" textLength="18.75" lengthAdjust="spacingAndGlyphs">10000</text>
<text class="tk" x="209.98" y="446.8" text-anchor="middle" textLength="18.75" lengthAdjust="spacingAndGlyphs">12000</text>
<text class="tk" x="238.46" y="446.8" text-anchor="middle" textLength="18.75" lengthAdjust="spacingAndGlyphs">14000</text>
<text class="tk" x="266.94" y="446.8" text-anchor="middle" textLength="18.75" lengthAdjust="spacingAndGlyphs">16000</text>
<text class="tk" x="295.42" y="446.8" text-anchor="middle" textLength="18.75" lengthAdjust="spacingAndGlyphs">18000</text>
<text class="tk" x="323.9" y="446.8" text-anchor="middle" textLength="18.75" lengthAdjust="spacingAndGlyphs">20000</text>
<text class="ax" x="181.5" y="457.2" text-anchor="middle" textLength="120.2" lengthAdjust="spacingAndGlyphs">Mean Daily Energy Intake (kJ/day)</text>
<text class="ax" transform="translate(7.8 339.1) rotate(-90)" text-anchor="middle" textLength="110.8" lengthAdjust="spacingAndGlyphs">Resting Metabolic Rate (kJ/day)</text>
<text class="L" x="0.4" y="251.2" textLength="9.1" lengthAdjust="spacingAndGlyphs">C</text>
<text class="st" x="43.4" y="273.2" textLength="65.6" lengthAdjust="spacingAndGlyphs" xml:space="preserve">r = 0.482; <tspan font-style="italic">P</tspan> < 0.001</text>
<g class="d"><circle cx="122.7" cy="322.9" r="1.5"/><circle cx="155.2" cy="328.3" r="1.5"/><circle cx="157.3" cy="345.8" r="1.5"/><circle cx="152.3" cy="348.5" r="1.5"/><circle cx="156.7" cy="348.9" r="1.5"/><circle cx="153.6" cy="352" r="1.5"/><circle cx="144.4" cy="353.1" r="1.5"/><circle cx="148.6" cy="354.2" r="1.5"/><circle cx="204.4" cy="333.7" r="1.5"/><circle cx="224.1" cy="331.5" r="1.5"/><circle cx="221.8" cy="341.5" r="1.5"/><circle cx="168.7" cy="345" r="1.5"/><circle cx="179.7" cy="344.8" r="1.5"/><circle cx="187.9" cy="347" r="1.5"/><circle cx="210.4" cy="347.8" r="1.5"/><circle cx="189.8" cy="349.9" r="1.5"/><circle cx="184.3" cy="350.7" r="1.5"/><circle cx="187.3" cy="351.8" r="1.5"/><circle cx="203.5" cy="352.9" r="1.5"/><circle cx="214.2" cy="352.2" r="1.5"/><circle cx="220.9" cy="352.7" r="1.5"/><circle cx="192.6" cy="354" r="1.5"/><circle cx="197.8" cy="354.2" r="1.5"/><circle cx="171.3" cy="354.9" r="1.5"/><circle cx="222.8" cy="354.9" r="1.5"/><circle cx="238.3" cy="335.6" r="1.5"/><circle cx="258.3" cy="340.1" r="1.5"/><circle cx="235.3" cy="348" r="1.5"/><circle cx="239" cy="348.7" r="1.5"/><circle cx="246" cy="351.2" r="1.5"/><circle cx="251.3" cy="350.5" r="1.5"/><circle cx="236.6" cy="354" r="1.5"/><circle cx="245.8" cy="354.4" r="1.5"/><circle cx="262.5" cy="354.4" r="1.5"/><circle cx="309.9" cy="327.4" r="1.5"/><circle cx="294.7" cy="354.4" r="1.5"/><circle cx="117.3" cy="355.9" r="1.5"/><circle cx="122.8" cy="365.5" r="1.5"/><circle cx="125.8" cy="366.6" r="1.5"/><circle cx="131" cy="363.9" r="1.5"/><circle cx="129.5" cy="368.3" r="1.5"/><circle cx="118" cy="374.7" r="1.5"/><circle cx="110.5" cy="378.2" r="1.5"/><circle cx="129.4" cy="376" r="1.5"/><circle cx="128.9" cy="380.7" r="1.5"/><circle cx="112.4" cy="382" r="1.5"/><circle cx="116.4" cy="383.5" r="1.5"/><circle cx="122.5" cy="382.2" r="1.5"/><circle cx="123" cy="383.5" r="1.5"/><circle cx="125.8" cy="383.7" r="1.5"/><circle cx="126.5" cy="387.2" r="1.5"/><circle cx="116.2" cy="388.3" r="1.5"/><circle cx="113.6" cy="389.9" r="1.5"/><circle cx="147.3" cy="355.8" r="1.5"/><circle cx="154.5" cy="359" r="1.5"/><circle cx="157.4" cy="358.5" r="1.5"/><circle cx="141.8" cy="365.3" r="1.5"/><circle cx="154.7" cy="364.9" r="1.5"/><circle cx="159.8" cy="363.8" r="1.5"/><circle cx="151.8" cy="367" r="1.5"/><circle cx="151.8" cy="368.8" r="1.5"/><circle cx="159.8" cy="367.3" r="1.5"/><circle cx="144.2" cy="369.5" r="1.5"/><circle cx="145.3" cy="370.5" r="1.5"/><circle cx="132.4" cy="371.6" r="1.5"/><circle cx="139" cy="371.6" r="1.5"/><circle cx="140.6" cy="372.7" r="1.5"/><circle cx="149.3" cy="371.9" r="1.5"/><circle cx="155" cy="371.2" r="1.5"/><circle cx="156.1" cy="372.5" r="1.5"/><circle cx="146.9" cy="373.4" r="1.5"/><circle cx="148.4" cy="374.1" r="1.5"/><circle cx="152.1" cy="373.2" r="1.5"/><circle cx="159.8" cy="373.4" r="1.5"/><circle cx="158" cy="374.5" r="1.5"/><circle cx="135.3" cy="375.4" r="1.5"/><circle cx="134.4" cy="378.1" r="1.5"/><circle cx="136.6" cy="378.5" r="1.5"/><circle cx="139.2" cy="377.2" r="1.5"/><circle cx="140.5" cy="378.5" r="1.5"/><circle cx="138.1" cy="379.8" r="1.5"/><circle cx="140.7" cy="380" r="1.5"/><circle cx="144.5" cy="379.2" r="1.5"/><circle cx="148" cy="375.9" r="1.5"/><circle cx="148.8" cy="377.2" r="1.5"/><circle cx="147.5" cy="378.5" r="1.5"/><circle cx="148" cy="381.6" r="1.5"/><circle cx="151.9" cy="377.2" r="1.5"/><circle cx="151.5" cy="379.2" r="1.5"/><circle cx="153.9" cy="380.7" r="1.5"/><circle cx="157.2" cy="375.7" r="1.5"/><circle cx="158" cy="377.4" r="1.5"/><circle cx="156.9" cy="379.8" r="1.5"/><circle cx="135.5" cy="382.5" r="1.5"/><circle cx="143.1" cy="384.1" r="1.5"/><circle cx="149.3" cy="384.9" r="1.5"/><circle cx="151.7" cy="385" r="1.5"/><circle cx="155" cy="385.3" r="1.5"/><circle cx="157.2" cy="385.1" r="1.5"/><circle cx="159.3" cy="384.9" r="1.5"/><circle cx="158.7" cy="387.3" r="1.5"/><circle cx="142.3" cy="387.9" r="1.5"/><circle cx="152.6" cy="387.9" r="1.5"/><circle cx="144.4" cy="391.4" r="1.5"/><circle cx="180.5" cy="358.3" r="1.5"/><circle cx="189.3" cy="357" r="1.5"/><circle cx="176.9" cy="360" r="1.5"/><circle cx="176.4" cy="362" r="1.5"/><circle cx="168.2" cy="361.7" r="1.5"/><circle cx="180.4" cy="363.1" r="1.5"/><circle cx="181" cy="364.2" r="1.5"/><circle cx="160.4" cy="364.9" r="1.5"/><circle cx="164.4" cy="363.5" r="1.5"/><circle cx="165" cy="365.9" r="1.5"/><circle cx="170.4" cy="364.2" r="1.5"/><circle cx="187.9" cy="366.2" r="1.5"/><circle cx="172" cy="366.8" r="1.5"/><circle cx="173.1" cy="367.9" r="1.5"/><circle cx="169.2" cy="368.1" r="1.5"/><circle cx="184.7" cy="369" r="1.5"/><circle cx="183.2" cy="370.1" r="1.5"/><circle cx="181.5" cy="371.4" r="1.5"/><circle cx="178.5" cy="370.5" r="1.5"/><circle cx="161.3" cy="369" r="1.5"/><circle cx="162.6" cy="370.3" r="1.5"/><circle cx="164.8" cy="370.8" r="1.5"/><circle cx="163.3" cy="372.3" r="1.5"/><circle cx="170.1" cy="370.3" r="1.5"/><circle cx="170.7" cy="371.9" r="1.5"/><circle cx="169.9" cy="373" r="1.5"/><circle cx="172.7" cy="374.3" r="1.5"/><circle cx="176.2" cy="374.5" r="1.5"/><circle cx="189.8" cy="373" r="1.5"/><circle cx="161.8" cy="377" r="1.5"/><circle cx="163.1" cy="377" r="1.5"/><circle cx="183.4" cy="376.8" r="1.5"/><circle cx="172.7" cy="377.8" r="1.5"/><circle cx="180.6" cy="377.8" r="1.5"/><circle cx="187.2" cy="377.2" r="1.5"/><circle cx="166.6" cy="379.2" r="1.5"/><circle cx="164.4" cy="379.8" r="1.5"/><circle cx="171.2" cy="379.8" r="1.5"/><circle cx="178.6" cy="379.2" r="1.5"/><circle cx="188.5" cy="379.4" r="1.5"/><circle cx="174.2" cy="380.9" r="1.5"/><circle cx="177.7" cy="381.1" r="1.5"/><circle cx="181.9" cy="380.5" r="1.5"/><circle cx="182.6" cy="382" r="1.5"/><circle cx="187.2" cy="381.6" r="1.5"/><circle cx="163.1" cy="381.8" r="1.5"/><circle cx="164.4" cy="382.7" r="1.5"/><circle cx="160.7" cy="385.5" r="1.5"/><circle cx="172" cy="384.6" r="1.5"/><circle cx="171.2" cy="386.2" r="1.5"/><circle cx="166.4" cy="386.6" r="1.5"/><circle cx="166" cy="391" r="1.5"/><circle cx="192.8" cy="355.2" r="1.5"/><circle cx="199.4" cy="355.2" r="1.5"/><circle cx="208.4" cy="355.7" r="1.5"/><circle cx="210.4" cy="355.7" r="1.5"/><circle cx="195.9" cy="357" r="1.5"/><circle cx="198.3" cy="358.7" r="1.5"/><circle cx="194.6" cy="360" r="1.5"/><circle cx="199.4" cy="361.6" r="1.5"/><circle cx="198.8" cy="360.3" r="1.5"/><circle cx="203.4" cy="359.3" r="1.5"/><circle cx="214.1" cy="359.4" r="1.5"/><circle cx="212.8" cy="361.8" r="1.5"/><circle cx="216.7" cy="362" r="1.5"/><circle cx="216.3" cy="363.8" r="1.5"/><circle cx="190.7" cy="362.7" r="1.5"/><circle cx="194.6" cy="362.9" r="1.5"/><circle cx="195.9" cy="363.5" r="1.5"/><circle cx="207.5" cy="362.4" r="1.5"/><circle cx="211.9" cy="364.9" r="1.5"/><circle cx="207.7" cy="365.7" r="1.5"/><circle cx="205.8" cy="366.6" r="1.5"/><circle cx="202" cy="367.9" r="1.5"/><circle cx="191.3" cy="368.8" r="1.5"/><circle cx="209.1" cy="369.5" r="1.5"/><circle cx="216.7" cy="369.8" r="1.5"/><circle cx="201.6" cy="371.6" r="1.5"/><circle cx="201.2" cy="373" r="1.5"/><circle cx="193.9" cy="372.6" r="1.5"/><circle cx="207.5" cy="373.6" r="1.5"/><circle cx="215.2" cy="373.6" r="1.5"/><circle cx="197" cy="377" r="1.5"/><circle cx="203.7" cy="377.3" r="1.5"/><circle cx="206.3" cy="378.2" r="1.5"/><circle cx="211.3" cy="380.3" r="1.5"/><circle cx="190.7" cy="383.5" r="1.5"/><circle cx="193.4" cy="385.9" r="1.5"/><circle cx="197.8" cy="385" r="1.5"/><circle cx="228.1" cy="357.9" r="1.5"/><circle cx="246.3" cy="357.9" r="1.5"/><circle cx="248.5" cy="360.7" r="1.5"/><circle cx="251.1" cy="362.1" r="1.5"/><circle cx="253.5" cy="362.7" r="1.5"/><circle cx="257.4" cy="364" r="1.5"/><circle cx="268.4" cy="360.9" r="1.5"/><circle cx="271.9" cy="357.2" r="1.5"/><circle cx="225.1" cy="367.3" r="1.5"/><circle cx="230.1" cy="367.1" r="1.5"/><circle cx="232.5" cy="366" r="1.5"/><circle cx="231.6" cy="369.7" r="1.5"/><circle cx="221.8" cy="371.9" r="1.5"/><circle cx="224.4" cy="371.3" r="1.5"/><circle cx="305" cy="360.8" r="1.5"/></g>
</g>
<g id="panelD">
<line x1="459.3" y1="405.8" x2="660.5" y2="353.7" stroke="#8c8c8c" stroke-width="0.42"/>
<path d="M387.4 251.9V433.9H675.9" fill="none" stroke="#1a1a1a" stroke-width="1.5"/>
<path d="M384.8 252.4H387.4M384.8 272.57H387.4M384.8 292.73H387.4M384.8 312.9H387.4M384.8 333.07H387.4M384.8 353.23H387.4M384.8 373.4H387.4M384.8 393.57H387.4M384.8 413.73H387.4M384.8 433.9H387.4M387.4 433.9V436.5M416.2 433.9V436.5M445 433.9V436.5M473.8 433.9V436.5M502.6 433.9V436.5M531.4 433.9V436.5M560.2 433.9V436.5M589 433.9V436.5M617.8 433.9V436.5M646.6 433.9V436.5M675.4 433.9V436.5" fill="none" stroke="#1a1a1a" stroke-width="1.15"/>
<text class="tk" x="380.2" y="255" text-anchor="end" textLength="18.75" lengthAdjust="spacingAndGlyphs">18000</text>
<text class="tk" x="380.2" y="275.17" text-anchor="end" textLength="18.75" lengthAdjust="spacingAndGlyphs">16000</text>
<text class="tk" x="380.2" y="295.33" text-anchor="end" textLength="18.75" lengthAdjust="spacingAndGlyphs">14000</text>
<text class="tk" x="380.2" y="315.5" text-anchor="end" textLength="18.75" lengthAdjust="spacingAndGlyphs">12000</text>
<text class="tk" x="380.2" y="335.67" text-anchor="end" textLength="18.75" lengthAdjust="spacingAndGlyphs">10000</text>
<text class="tk" x="380.2" y="355.83" text-anchor="end" textLength="15" lengthAdjust="spacingAndGlyphs">8000</text>
<text class="tk" x="380.2" y="376" text-anchor="end" textLength="15" lengthAdjust="spacingAndGlyphs">6000</text>
<text class="tk" x="380.2" y="396.17" text-anchor="end" textLength="15" lengthAdjust="spacingAndGlyphs">4000</text>
<text class="tk" x="380.2" y="416.33" text-anchor="end" textLength="15" lengthAdjust="spacingAndGlyphs">2000</text>
<text class="tk" x="380.2" y="436.5" text-anchor="end" textLength="3.75" lengthAdjust="spacingAndGlyphs">0</text>
<text class="tk" x="387.4" y="445.8" text-anchor="middle" textLength="3.75" lengthAdjust="spacingAndGlyphs">0</text>
<text class="tk" x="416.2" y="445.8" text-anchor="middle" textLength="15" lengthAdjust="spacingAndGlyphs">2000</text>
<text class="tk" x="445" y="445.8" text-anchor="middle" textLength="15" lengthAdjust="spacingAndGlyphs">4000</text>
<text class="tk" x="473.8" y="445.8" text-anchor="middle" textLength="15" lengthAdjust="spacingAndGlyphs">6000</text>
<text class="tk" x="502.6" y="445.8" text-anchor="middle" textLength="15" lengthAdjust="spacingAndGlyphs">8000</text>
<text class="tk" x="531.4" y="445.8" text-anchor="middle" textLength="18.75" lengthAdjust="spacingAndGlyphs">10000</text>
<text class="tk" x="560.2" y="445.8" text-anchor="middle" textLength="18.75" lengthAdjust="spacingAndGlyphs">12000</text>
<text class="tk" x="589" y="445.8" text-anchor="middle" textLength="18.75" lengthAdjust="spacingAndGlyphs">14000</text>
<text class="tk" x="617.8" y="445.8" text-anchor="middle" textLength="18.75" lengthAdjust="spacingAndGlyphs">16000</text>
<text class="tk" x="646.6" y="445.8" text-anchor="middle" textLength="18.75" lengthAdjust="spacingAndGlyphs">18000</text>
<text class="tk" x="675.4" y="445.8" text-anchor="middle" textLength="18.75" lengthAdjust="spacingAndGlyphs">20000</text>
<text class="ax" x="531.6" y="457" text-anchor="middle" textLength="120.2" lengthAdjust="spacingAndGlyphs">Mean Daily Energy Intake (kJ/day)</text>
<text class="ax" transform="translate(354.8 346) rotate(-90)" text-anchor="middle" textLength="124" lengthAdjust="spacingAndGlyphs">Activity Energy Expenditure (kJ/day)</text>
<text class="L" x="348.6" y="251.2" textLength="10.3" lengthAdjust="spacingAndGlyphs">D</text>
<text class="st" x="392.9" y="272.9" textLength="65.9" lengthAdjust="spacingAndGlyphs" xml:space="preserve">r = 0.364; <tspan font-style="italic">P</tspan> < 0.001</text>
<g class="d"><circle cx="493.4" cy="265.2" r="1.5"/><circle cx="549.5" cy="320.2" r="1.5"/><circle cx="543.4" cy="326.5" r="1.5"/><circle cx="501.2" cy="328.2" r="1.5"/><circle cx="504.3" cy="330.7" r="1.5"/><circle cx="554.6" cy="333" r="1.5"/><circle cx="589.5" cy="291.3" r="1.5"/><circle cx="582" cy="304.6" r="1.5"/><circle cx="574.6" cy="321.9" r="1.5"/><circle cx="656.4" cy="321.6" r="1.5"/><circle cx="596.9" cy="329.8" r="1.5"/><circle cx="599.5" cy="331.6" r="1.5"/><circle cx="596.9" cy="333.3" r="1.5"/><circle cx="506.7" cy="346.5" r="1.5"/><circle cx="505.2" cy="348.6" r="1.5"/><circle cx="514.1" cy="346.3" r="1.5"/><circle cx="509.5" cy="353.3" r="1.5"/><circle cx="491.2" cy="356.3" r="1.5"/><circle cx="496.8" cy="364.2" r="1.5"/><circle cx="504.2" cy="364" r="1.5"/><circle cx="514.8" cy="361.8" r="1.5"/><circle cx="519.6" cy="335.3" r="1.5"/><circle cx="524.2" cy="339.2" r="1.5"/><circle cx="537.8" cy="337.9" r="1.5"/><circle cx="534.4" cy="344.3" r="1.5"/><circle cx="532.3" cy="346.9" r="1.5"/><circle cx="548.5" cy="351.9" r="1.5"/><circle cx="565.5" cy="353.7" r="1.5"/><circle cx="521.6" cy="356.3" r="1.5"/><circle cx="526.4" cy="355.7" r="1.5"/><circle cx="540.4" cy="362.1" r="1.5"/><circle cx="537.6" cy="362.8" r="1.5"/><circle cx="554" cy="361.1" r="1.5"/><circle cx="521.1" cy="364.4" r="1.5"/><circle cx="552.2" cy="364.9" r="1.5"/><circle cx="571.1" cy="363.4" r="1.5"/><circle cx="564.5" cy="364.9" r="1.5"/><circle cx="572.4" cy="364.4" r="1.5"/><circle cx="619.4" cy="339.3" r="1.5"/><circle cx="622.7" cy="345" r="1.5"/><circle cx="596.5" cy="349.5" r="1.5"/><circle cx="602" cy="351" r="1.5"/><circle cx="596.6" cy="355.7" r="1.5"/><circle cx="613.1" cy="364.4" r="1.5"/><circle cx="488.3" cy="368.8" r="1.5"/><circle cx="490.3" cy="370.9" r="1.5"/><circle cx="493.8" cy="371.4" r="1.5"/><circle cx="501.9" cy="371.6" r="1.5"/><circle cx="498.4" cy="374.2" r="1.5"/><circle cx="504.8" cy="374.5" r="1.5"/><circle cx="509.5" cy="375.7" r="1.5"/><circle cx="512.5" cy="377.3" r="1.5"/><circle cx="491.6" cy="379" r="1.5"/><circle cx="504.2" cy="380.9" r="1.5"/><circle cx="503.2" cy="383.2" r="1.5"/><circle cx="498.5" cy="383.7" r="1.5"/><circle cx="497" cy="385.3" r="1.5"/><circle cx="514.6" cy="383.4" r="1.5"/><circle cx="496.9" cy="387.6" r="1.5"/><circle cx="506.7" cy="387.1" r="1.5"/><circle cx="512.5" cy="387.9" r="1.5"/><circle cx="467" cy="389.8" r="1.5"/><circle cx="489.4" cy="391" r="1.5"/><circle cx="480.2" cy="394.3" r="1.5"/><circle cx="483.7" cy="395" r="1.5"/><circle cx="501.4" cy="395.4" r="1.5"/><circle cx="514.8" cy="394.3" r="1.5"/><circle cx="492.7" cy="396.5" r="1.5"/><circle cx="494.9" cy="396.1" r="1.5"/><circle cx="496.9" cy="396.4" r="1.5"/><circle cx="498.5" cy="398.1" r="1.5"/><circle cx="506.2" cy="396.7" r="1.5"/><circle cx="510.2" cy="397.8" r="1.5"/><circle cx="512.6" cy="398.3" r="1.5"/><circle cx="471.6" cy="397" r="1.5"/><circle cx="471.8" cy="398.3" r="1.5"/><circle cx="466.4" cy="398.7" r="1.5"/><circle cx="487.6" cy="398.3" r="1.5"/><circle cx="475.6" cy="400" r="1.5"/><circle cx="484.3" cy="400" r="1.5"/><circle cx="494.9" cy="400" r="1.5"/><circle cx="485.7" cy="402.7" r="1.5"/><circle cx="493.8" cy="403.3" r="1.5"/><circle cx="461.6" cy="403.8" r="1.5"/><circle cx="471.6" cy="403.8" r="1.5"/><circle cx="498.8" cy="404.9" r="1.5"/><circle cx="503" cy="404.9" r="1.5"/><circle cx="511.5" cy="403.5" r="1.5"/><circle cx="514.6" cy="401.8" r="1.5"/><circle cx="537.3" cy="365.2" r="1.5"/><circle cx="522.4" cy="368.2" r="1.5"/><circle cx="547" cy="368.3" r="1.5"/><circle cx="530.1" cy="372" r="1.5"/><circle cx="531.4" cy="374.8" r="1.5"/><circle cx="539.1" cy="371" r="1.5"/><circle cx="540" cy="372.7" r="1.5"/><circle cx="542.2" cy="372" r="1.5"/><circle cx="551.6" cy="371.1" r="1.5"/><circle cx="557.7" cy="371" r="1.5"/><circle cx="560.7" cy="371" r="1.5"/><circle cx="561.4" cy="373.5" r="1.5"/><circle cx="564.9" cy="369.1" r="1.5"/><circle cx="566.7" cy="370.7" r="1.5"/><circle cx="545.7" cy="376.6" r="1.5"/><circle cx="553.5" cy="376.6" r="1.5"/><circle cx="521.1" cy="378.3" r="1.5"/><circle cx="556.2" cy="379" r="1.5"/><circle cx="557.7" cy="381.2" r="1.5"/><circle cx="541" cy="381.4" r="1.5"/><circle cx="564.7" cy="384.1" r="1.5"/><circle cx="564.7" cy="387.6" r="1.5"/><circle cx="544.8" cy="387.1" r="1.5"/><circle cx="549.2" cy="388.9" r="1.5"/><circle cx="522.6" cy="388" r="1.5"/><circle cx="522.4" cy="391" r="1.5"/><circle cx="530.3" cy="389.8" r="1.5"/><circle cx="533.4" cy="389.8" r="1.5"/><circle cx="537.6" cy="391.3" r="1.5"/><circle cx="548.5" cy="393.2" r="1.5"/><circle cx="529.6" cy="394.5" r="1.5"/><circle cx="537.9" cy="394.8" r="1.5"/><circle cx="542.6" cy="394.8" r="1.5"/><circle cx="544.3" cy="395" r="1.5"/><circle cx="518.1" cy="396.5" r="1.5"/><circle cx="518.5" cy="398.7" r="1.5"/><circle cx="559.5" cy="397.2" r="1.5"/><circle cx="566.9" cy="397.8" r="1.5"/><circle cx="573.5" cy="395.2" r="1.5"/><circle cx="574.8" cy="398.7" r="1.5"/><circle cx="527" cy="398.9" r="1.5"/><circle cx="528.6" cy="400.2" r="1.5"/><circle cx="541" cy="398.7" r="1.5"/><circle cx="547.8" cy="399" r="1.5"/><circle cx="545" cy="400" r="1.5"/><circle cx="546.4" cy="401.2" r="1.5"/><circle cx="515.9" cy="401.4" r="1.5"/><circle cx="521.8" cy="402.8" r="1.5"/><circle cx="553.8" cy="401.4" r="1.5"/><circle cx="562.3" cy="400.5" r="1.5"/><circle cx="563" cy="402.5" r="1.5"/><circle cx="537.2" cy="403.1" r="1.5"/><circle cx="541" cy="404" r="1.5"/><circle cx="549.9" cy="403.3" r="1.5"/><circle cx="572.2" cy="403.1" r="1.5"/><circle cx="574.8" cy="389.1" r="1.5"/><circle cx="609.2" cy="370" r="1.5"/><circle cx="587.3" cy="375.7" r="1.5"/><circle cx="583.3" cy="378.4" r="1.5"/><circle cx="601.7" cy="376.4" r="1.5"/><circle cx="578.5" cy="386.3" r="1.5"/><circle cx="582.7" cy="390.8" r="1.5"/><circle cx="581.1" cy="392.3" r="1.5"/><circle cx="585.8" cy="394.8" r="1.5"/><circle cx="580.3" cy="397.1" r="1.5"/><circle cx="589.2" cy="402" r="1.5"/><circle cx="661.2" cy="381.4" r="1.5"/><circle cx="500.5" cy="406.3" r="1.5"/><circle cx="502.3" cy="407" r="1.5"/><circle cx="497.7" cy="408" r="1.5"/><circle cx="493.8" cy="407.2" r="1.5"/><circle cx="512.6" cy="405.2" r="1.5"/><circle cx="511.1" cy="406.1" r="1.5"/><circle cx="514.1" cy="406.3" r="1.5"/><circle cx="507.8" cy="408" r="1.5"/><circle cx="510.6" cy="408.5" r="1.5"/><circle cx="485.9" cy="408.5" r="1.5"/><circle cx="508.9" cy="410.7" r="1.5"/><circle cx="514.8" cy="410.3" r="1.5"/><circle cx="496.2" cy="410.9" r="1.5"/><circle cx="501.4" cy="411.4" r="1.5"/><circle cx="501.9" cy="412.5" r="1.5"/><circle cx="497.5" cy="413.3" r="1.5"/><circle cx="493.8" cy="413.9" r="1.5"/><circle cx="511.5" cy="413.8" r="1.5"/><circle cx="506" cy="415.5" r="1.5"/><circle cx="509.7" cy="416" r="1.5"/><circle cx="507.8" cy="417.1" r="1.5"/><circle cx="488.3" cy="417.3" r="1.5"/><circle cx="489.8" cy="417.5" r="1.5"/><circle cx="497.7" cy="417.7" r="1.5"/><circle cx="459.6" cy="408.1" r="1.5"/><circle cx="462.9" cy="410.7" r="1.5"/><circle cx="465.7" cy="410.7" r="1.5"/><circle cx="475" cy="408.9" r="1.5"/><circle cx="475" cy="413.1" r="1.5"/><circle cx="471.9" cy="414.3" r="1.5"/><circle cx="478" cy="414.9" r="1.5"/><circle cx="481.9" cy="415.6" r="1.5"/><circle cx="490" cy="418.7" r="1.5"/><circle cx="490.5" cy="421" r="1.5"/><circle cx="485" cy="420.1" r="1.5"/><circle cx="465.3" cy="423.4" r="1.5"/><circle cx="478.2" cy="423.2" r="1.5"/><circle cx="478.8" cy="425.4" r="1.5"/><circle cx="493.7" cy="424.3" r="1.5"/><circle cx="504.9" cy="423.6" r="1.5"/><circle cx="506.9" cy="424.1" r="1.5"/><circle cx="516.3" cy="406.8" r="1.5"/><circle cx="526.8" cy="407" r="1.5"/><circle cx="527.7" cy="408.8" r="1.5"/><circle cx="530.8" cy="406.3" r="1.5"/><circle cx="532.1" cy="406" r="1.5"/><circle cx="521" cy="410.3" r="1.5"/><circle cx="521.1" cy="411.8" r="1.5"/><circle cx="520.3" cy="414" r="1.5"/><circle cx="522.9" cy="414.5" r="1.5"/><circle cx="519.8" cy="416.6" r="1.5"/><circle cx="535" cy="411.1" r="1.5"/><circle cx="537.2" cy="410.9" r="1.5"/><circle cx="537.3" cy="414.7" r="1.5"/><circle cx="525.9" cy="417.3" r="1.5"/><circle cx="530.8" cy="417.8" r="1.5"/><circle cx="533.4" cy="418.8" r="1.5"/><circle cx="540" cy="420" r="1.5"/><circle cx="538.8" cy="422.3" r="1.5"/><circle cx="519.1" cy="423.4" r="1.5"/><circle cx="547.8" cy="413.1" r="1.5"/><circle cx="556" cy="408.3" r="1.5"/><circle cx="558.6" cy="407.7" r="1.5"/><circle cx="558.1" cy="411.6" r="1.5"/><circle cx="564.1" cy="414.7" r="1.5"/><circle cx="567.1" cy="414" r="1.5"/><circle cx="560.7" cy="420.4" r="1.5"/><circle cx="604.2" cy="406.8" r="1.5"/><circle cx="608.1" cy="412.1" r="1.5"/><circle cx="645.9" cy="407.2" r="1.5"/></g>
</g>
</svg></body></html>
